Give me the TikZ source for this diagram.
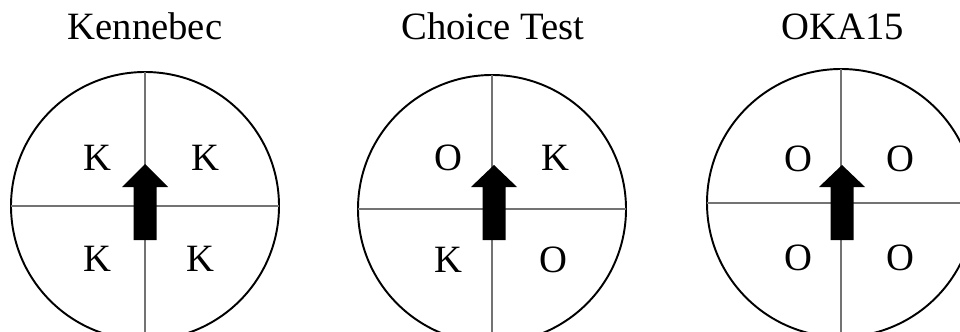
\documentclass[tikz,border=0pt]{standalone}
\usepackage{fontspec}
\setmainfont{Liberation Serif}
\tikzset{
  rueda/.style={draw=black, line width=1.1pt, circle, minimum size=53.6mm, inner sep=0pt, outer sep=0pt},
  cruz/.style={draw=black!55, line width=0.8pt},
  titulo/.style={anchor=base, inner sep=0pt, font=\fontsize{22}{26}\selectfont},
  letra/.style={inner sep=0pt, font=\fontsize{22}{26}\selectfont},
  flecha/.style={fill=black}
}
\begin{document}
\begin{tikzpicture}[x=0.2mm,y=-0.2mm]
    \useasboundingbox (0,0) rectangle (960,331);
    \clip (0,0) rectangle (960,331);
    % Titulos
    \node[titulo] (t1) at (145,40) {Kennebec};
    \node[titulo] (t2) at (493,40) {Choice Test};
    \node[titulo] (t3) at (843,40) {OKA15};
    % Circulos
    \node[rueda] (c1) at (145,206) {};
    \node[rueda] (c2) at (492,209) {};
    \node[rueda] (c3) at (841,203) {};
    % Cuadrantes
    \draw[cruz] (c1.north) -- (c1.south);
    \draw[cruz] (c1.west) -- (c1.east);
    \draw[cruz] (c2.north) -- (c2.south);
    \draw[cruz] (c2.west) -- (c2.east);
    \draw[cruz] (c3.north) -- (c3.south);
    \draw[cruz] (c3.west) -- (c3.east);
    % Letras
    \node[letra] (k1a) at (97,158) {K};
    \node[letra] (k1b) at (205,158) {K};
    \node[letra] (k1c) at (97,259) {K};
    \node[letra] (k1d) at (200,259) {K};
    \node[letra] (o2a) at (448,158) {O};
    \node[letra] (k2b) at (555,158) {K};
    \node[letra] (k2c) at (448,260) {K};
    \node[letra] (o2d) at (553,260) {O};
    \node[letra] (o3a) at (798,159) {O};
    \node[letra] (o3b) at (900,159) {O};
    \node[letra] (o3c) at (798,258) {O};
    \node[letra] (o3d) at (900,258) {O};
    % Flechas
    \fill[flecha] (145,164) -- (168,187) -- (156.5,187) -- (156.5,240) -- (133.5,240) -- (133.5,187) -- (122,187) -- cycle;
    \fill[flecha] (494,165) -- (517,187) -- (505.5,187) -- (505.5,240) -- (482.5,240) -- (482.5,187) -- (471,187) -- cycle;
    \fill[flecha] (842,165) -- (865,187) -- (853.5,187) -- (853.5,240) -- (830.5,240) -- (830.5,187) -- (819,187) -- cycle;
\end{tikzpicture}
\end{document}
